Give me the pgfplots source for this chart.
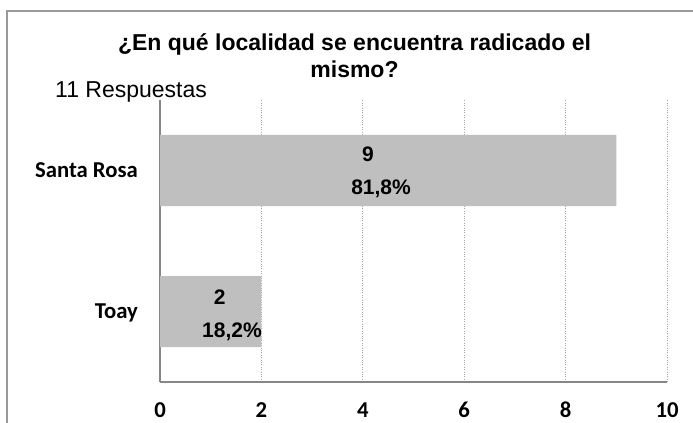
\documentclass[border=0pt]{standalone}
\usepackage{pgfplots}
\pgfplotsset{compat=1.18}
\usepackage{fontspec}
\setmainfont{Liberation Sans}
\newfontfamily\calibri{Carlito}
\definecolor{barfill}{HTML}{BFBFBF}
\definecolor{axisgray}{HTML}{868686}
\definecolor{framegray}{HTML}{9A9A9A}
\definecolor{gridgray}{HTML}{A6A6A6}
\tikzset{datalbl/.style={font=\bfseries\fontsize{21bp}{25bp}\selectfont, anchor=base, inner sep=0pt}}
\begin{document}
\begin{tikzpicture}[x=1bp,y=1bp]
\useasboundingbox (0,0) rectangle (693,422);
\draw[framegray, line width=1.4bp] (7,-20) -- (7,411) -- (720,411);
\begin{axis}[
  at={(160bp,40bp)}, anchor=south west,
  scale only axis, width=507bp, height=282bp,
  xmin=0, xmax=10, ymin=0.5, ymax=2.5,
  xbar, bar width=71bp,
  xtick={0,2,4,6,8,10},
  ytick={1,2}, yticklabels={Toay,Santa Rosa},
  axis x line*=bottom, axis y line*=left,
  axis line style={-, draw=axisgray, line width=1.4bp},
  major tick length=0pt,
  xmajorgrids, grid style={dash pattern=on 0.8bp off 1.6bp, draw=gridgray, line width=0.7bp},
  ticklabel style={font=\calibri\bfseries\fontsize{22.7bp}{27bp}\selectfont},
  /pgf/number format/assume math mode=true,
  xticklabel style={anchor=base, inner sep=0pt, yshift=-35.5bp},
  yticklabel style={anchor=base east, inner sep=0pt, xshift=-22bp, yshift=-7bp},
]
\addplot[fill=barfill, draw=none] coordinates {(2,1) (9,2)};
\node[datalbl] at (axis cs:4.10,2.064) {9};
\node[datalbl] at (axis cs:4.36,1.829) {81,8\%};
\node[datalbl] at (axis cs:1.18,1.05) {2};
\node[datalbl] at (axis cs:1.42,0.814) {18,2\%};
\end{axis}
\node[anchor=base, inner sep=0pt, font=\bfseries\fontsize{23bp}{27bp}\selectfont] at (354.5,372) {¿En qué localidad se encuentra radicado el};
\node[anchor=base, inner sep=0pt, font=\bfseries\fontsize{23bp}{27bp}\selectfont] at (354.5,344.5) {mismo?};
\node[anchor=base west, inner sep=0pt, font=\fontsize{23bp}{27bp}\selectfont] at (55,325) {11 Respuestas};
\end{tikzpicture}
\end{document}
